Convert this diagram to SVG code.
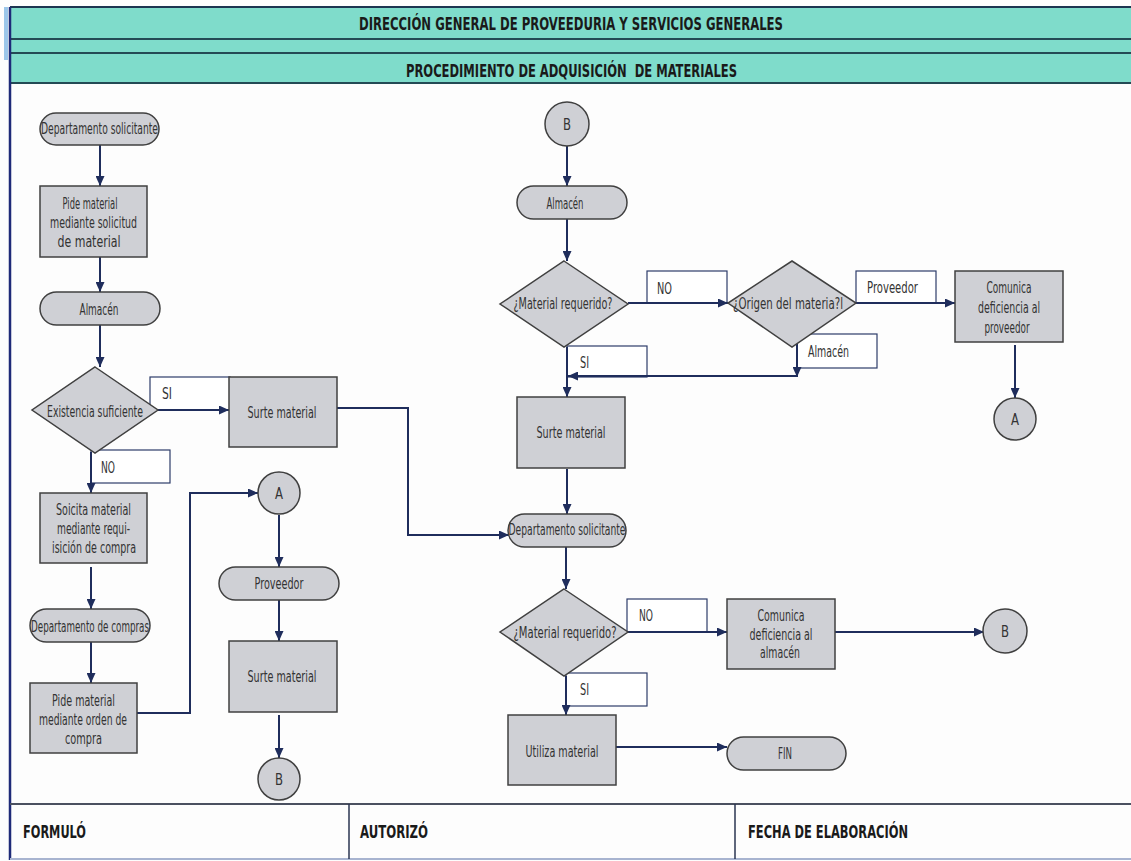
<svg xmlns="http://www.w3.org/2000/svg" width="1131" height="861" viewBox="0 0 1131 861">
<style>
.n{fill:#cfd0d5;stroke:#404040;stroke-width:1.5}
.lb{fill:#ffffff;stroke:#2d3c6a;stroke-width:1.2}
.c{fill:none;stroke:#1f2d5c;stroke-width:2}
.t{font-family:"DejaVu Sans Condensed","Liberation Sans Narrow",sans-serif;font-size:15px;fill:#333;text-anchor:middle}
.ts{font-family:"DejaVu Sans Condensed","Liberation Sans Narrow",sans-serif;font-size:15px;fill:#333;text-anchor:start}
.h{font-family:"DejaVu Sans Condensed","Liberation Sans Narrow",sans-serif;font-size:17px;font-weight:bold;fill:#1a1a1a}
.hl{stroke:#244a55;stroke-width:2}
</style>
<defs>
<marker id="ar" markerWidth="10" markerHeight="9" refX="10" refY="4.5" orient="auto" markerUnits="userSpaceOnUse"><path d="M0,0 L10,4.5 L0,9 z" fill="#1f2d5c"/></marker>
</defs>
<rect x="0" y="0" width="1131" height="861" fill="#fdfdfd"/>
<g id="header">
<rect x="10" y="7" width="1121" height="76" fill="#7fdccb"/>
<rect x="4" y="7" width="4" height="53" fill="#9cc7ea"/>
<line x1="10" y1="7" x2="1131" y2="7" stroke="#1c3550" stroke-width="2"/>
<line class="hl" x1="10" y1="39" x2="1131" y2="39"/>
<line class="hl" x1="10" y1="53" x2="1131" y2="53"/>
<line class="hl" x1="10" y1="83" x2="1131" y2="83"/>
<text class="h" x="571" y="30" text-anchor="middle" textLength="424" lengthAdjust="spacingAndGlyphs">DIRECCIÓN GENERAL DE PROVEEDURIA Y SERVICIOS GENERALES</text>
<text class="h" x="571.5" y="77" text-anchor="middle" textLength="331" lengthAdjust="spacingAndGlyphs" xml:space="preserve">PROCEDIMIENTO DE ADQUISICIÓN  DE MATERIALES</text>
</g>
<g id="frame">
<line x1="10" y1="7" x2="10" y2="860" stroke="#1e2a78" stroke-width="2.5"/>
<line x1="10" y1="804" x2="1131" y2="804" stroke="#4a5060" stroke-width="2"/>
<line x1="10" y1="859" x2="1131" y2="859" stroke="#a8b4d0" stroke-width="2"/>
<line x1="349" y1="804" x2="349" y2="859" stroke="#2a3450" stroke-width="1.5"/>
<line x1="735" y1="804" x2="735" y2="859" stroke="#2a3450" stroke-width="1.5"/>
<text class="h" x="23" y="838" textLength="63" lengthAdjust="spacingAndGlyphs">FORMULÓ</text>
<text class="h" x="360" y="838" textLength="68" lengthAdjust="spacingAndGlyphs">AUTORIZÓ</text>
<text class="h" x="748" y="838" textLength="160" lengthAdjust="spacingAndGlyphs">FECHA DE ELABORACIÓN</text>
</g>
<g id="labels">
<rect class="lb" x="150" y="377" width="80" height="33"/>
<text class="ts" x="162" y="399" textLength="10" lengthAdjust="spacingAndGlyphs">SI</text>
<rect class="lb" x="91" y="450" width="79" height="33"/>
<text class="ts" x="101" y="473" textLength="14" lengthAdjust="spacingAndGlyphs">NO</text>
<rect class="lb" x="647" y="271" width="80" height="32"/>
<text class="ts" x="657" y="294" textLength="15" lengthAdjust="spacingAndGlyphs">NO</text>
<rect class="lb" x="856" y="271" width="80" height="32"/>
<text class="ts" x="867" y="293" textLength="51" lengthAdjust="spacingAndGlyphs">Proveedor</text>
<rect class="lb" x="797" y="334" width="80" height="34"/>
<text class="ts" x="808" y="357" textLength="41" lengthAdjust="spacingAndGlyphs">Almacén</text>
<rect class="lb" x="567" y="346" width="80" height="31"/>
<text class="ts" x="580" y="368" textLength="9" lengthAdjust="spacingAndGlyphs">SI</text>
<rect class="lb" x="627" y="599" width="80" height="33"/>
<text class="ts" x="639" y="621" textLength="14" lengthAdjust="spacingAndGlyphs">NO</text>
<rect class="lb" x="566" y="673" width="81" height="33"/>
<text class="ts" x="580" y="695" textLength="9" lengthAdjust="spacingAndGlyphs">SI</text>
</g>
<g id="connectors">
<line class="c" x1="100" y1="145" x2="100" y2="186" marker-end="url(#ar)"/>
<line class="c" x1="100" y1="257" x2="100" y2="292" marker-end="url(#ar)"/>
<line class="c" x1="100" y1="325" x2="100" y2="367" marker-end="url(#ar)"/>
<line class="c" x1="158" y1="410" x2="229" y2="410" marker-end="url(#ar)" stroke-width="2.5"/>
<line class="c" x1="91" y1="452" x2="91" y2="493" marker-end="url(#ar)"/>
<line class="c" x1="91" y1="567" x2="91" y2="609" marker-end="url(#ar)"/>
<line class="c" x1="91" y1="642" x2="91" y2="683" marker-end="url(#ar)"/>
<path class="c" d="M137,713 H190 V493 H258" marker-end="url(#ar)" stroke-width="1.5"/>
<line class="c" x1="279" y1="515" x2="279" y2="567" marker-end="url(#ar)"/>
<line class="c" x1="279" y1="600" x2="279" y2="641" marker-end="url(#ar)"/>
<line class="c" x1="279" y1="715" x2="279" y2="758" marker-end="url(#ar)"/>
<path class="c" d="M337,408 H408 V535 H509" marker-end="url(#ar)" stroke-width="1.5"/>
<line class="c" x1="567" y1="146" x2="567" y2="186" marker-end="url(#ar)"/>
<line class="c" x1="567" y1="219" x2="567" y2="261" marker-end="url(#ar)"/>
<line class="c" x1="628" y1="303" x2="728" y2="303" marker-end="url(#ar)"/>
<line class="c" x1="856" y1="303" x2="955" y2="303" marker-end="url(#ar)"/>
<line class="c" x1="1015" y1="345" x2="1015" y2="398" marker-end="url(#ar)"/>
<line class="c" x1="797" y1="344" x2="797" y2="377" marker-end="url(#ar)"/>
<line class="c" x1="797" y1="376" x2="568" y2="376" marker-end="url(#ar)"/>
<line class="c" x1="567" y1="347" x2="567" y2="397" marker-end="url(#ar)"/>
<line class="c" x1="567" y1="469" x2="567" y2="514" marker-end="url(#ar)"/>
<line class="c" x1="566" y1="547" x2="566" y2="589" marker-end="url(#ar)"/>
<line class="c" x1="627" y1="632" x2="727" y2="632" marker-end="url(#ar)"/>
<line class="c" x1="835" y1="632" x2="984" y2="632" marker-end="url(#ar)"/>
<line class="c" x1="566" y1="676" x2="566" y2="715" marker-end="url(#ar)"/>
<line class="c" x1="616" y1="747" x2="727" y2="747" marker-end="url(#ar)"/>
</g>
<g id="n1"><rect class="n" x="40" y="113" width="119" height="32" rx="16"/><text class="t" x="99.5" y="134" textLength="117" lengthAdjust="spacingAndGlyphs">Departamento solicitante</text></g>
<g id="n2"><rect class="n" x="40" y="186" width="107" height="71"/>
<text class="t" x="90" y="209" textLength="55" lengthAdjust="spacingAndGlyphs">Pide material</text>
<text class="t" x="93.5" y="228" textLength="87" lengthAdjust="spacingAndGlyphs">mediante solicitud</text>
<text class="t" x="89" y="247" textLength="63" lengthAdjust="spacingAndGlyphs">de material</text></g>
<g id="n3"><rect class="n" x="40" y="292" width="120" height="33" rx="16.5"/><text class="t" x="99" y="315" textLength="39" lengthAdjust="spacingAndGlyphs">Almacén</text></g>
<g id="n4"><polygon class="n" points="95,367 158,410 95,453 32,410"/><text class="t" x="95" y="417" textLength="96" lengthAdjust="spacingAndGlyphs">Existencia suficiente</text></g>
<g id="n5"><rect class="n" x="229" y="377" width="108" height="70"/><text class="t" x="282" y="418" textLength="69" lengthAdjust="spacingAndGlyphs">Surte material</text></g>
<g id="n6"><rect class="n" x="40" y="493" width="107" height="70"/>
<text class="t" x="93.5" y="515" textLength="75" lengthAdjust="spacingAndGlyphs">Soicita material</text>
<text class="t" x="93.5" y="534" textLength="73" lengthAdjust="spacingAndGlyphs">mediante requi-</text>
<text class="t" x="94" y="553" textLength="84" lengthAdjust="spacingAndGlyphs">isición de compra</text></g>
<g id="n7"><rect class="n" x="30" y="609" width="120" height="33" rx="16.5"/><text class="t" x="90" y="632" textLength="118" lengthAdjust="spacingAndGlyphs">Departamento de compras</text></g>
<g id="n8"><rect class="n" x="30" y="683" width="107" height="70"/>
<text class="t" x="83.5" y="706" textLength="63" lengthAdjust="spacingAndGlyphs">Pide material</text>
<text class="t" x="83" y="725" textLength="88" lengthAdjust="spacingAndGlyphs">mediante orden de</text>
<text class="t" x="83.5" y="744" textLength="37" lengthAdjust="spacingAndGlyphs">compra</text></g>
<g id="n9"><circle class="n" cx="279" cy="493" r="21"/><text class="t" x="279" y="499" textLength="8" lengthAdjust="spacingAndGlyphs">A</text></g>
<g id="n10"><rect class="n" x="219" y="567" width="120" height="33" rx="16.5"/><text class="t" x="279" y="589" textLength="49" lengthAdjust="spacingAndGlyphs">Proveedor</text></g>
<g id="n11"><rect class="n" x="229" y="641" width="108" height="71"/><text class="t" x="282" y="682" textLength="69" lengthAdjust="spacingAndGlyphs">Surte material</text></g>
<g id="n12"><circle class="n" cx="279" cy="779" r="21"/><text class="t" x="279" y="785" textLength="8" lengthAdjust="spacingAndGlyphs">B</text></g>
<g id="n13"><circle class="n" cx="567" cy="124" r="22"/><text class="t" x="567" y="130" textLength="8" lengthAdjust="spacingAndGlyphs">B</text></g>
<g id="n14"><rect class="n" x="517" y="186" width="110" height="33" rx="16.5"/><text class="t" x="565" y="209" textLength="37" lengthAdjust="spacingAndGlyphs">Almacén</text></g>
<g id="n15"><polygon class="n" points="564,261 628,304 564,347 500,304"/><text class="t" x="563" y="309" textLength="99" lengthAdjust="spacingAndGlyphs">¿Material requerido?</text></g>
<g id="n16"><polygon class="n" points="792,261 856,303 792,347 728,303"/><text class="t" x="788" y="309" textLength="110" lengthAdjust="spacingAndGlyphs">¿Origen del materia?l</text></g>
<g id="n17"><rect class="n" x="955" y="271" width="108" height="71"/>
<text class="t" x="1009" y="293" textLength="45" lengthAdjust="spacingAndGlyphs">Comunica</text>
<text class="t" x="1009" y="313" textLength="62" lengthAdjust="spacingAndGlyphs">deficiencia al</text>
<text class="t" x="1007" y="333" textLength="45" lengthAdjust="spacingAndGlyphs">proveedor</text></g>
<g id="n18"><circle class="n" cx="1015" cy="419" r="21"/><text class="t" x="1015" y="425" textLength="8" lengthAdjust="spacingAndGlyphs">A</text></g>
<g id="n19"><rect class="n" x="517" y="397" width="108" height="71"/><text class="t" x="571" y="438" textLength="69" lengthAdjust="spacingAndGlyphs">Surte material</text></g>
<g id="n20"><rect class="n" x="508" y="514" width="118" height="33" rx="16.5"/><text class="t" x="567" y="535" textLength="117" lengthAdjust="spacingAndGlyphs">Departamento solicitante</text></g>
<g id="n21"><polygon class="n" points="564,589 628,632 564,676 500,632"/><text class="t" x="565" y="638" textLength="103" lengthAdjust="spacingAndGlyphs">¿Material requerido?</text></g>
<g id="n22"><rect class="n" x="727" y="599" width="108" height="70"/>
<text class="t" x="781" y="621" textLength="47" lengthAdjust="spacingAndGlyphs">Comunica</text>
<text class="t" x="781" y="640" textLength="63" lengthAdjust="spacingAndGlyphs">deficiencia al</text>
<text class="t" x="780" y="658" textLength="40" lengthAdjust="spacingAndGlyphs">almacén</text></g>
<g id="n23"><circle class="n" cx="1005" cy="631" r="22"/><text class="t" x="1005" y="637" textLength="8" lengthAdjust="spacingAndGlyphs">B</text></g>
<g id="n24"><rect class="n" x="508" y="715" width="108" height="70"/><text class="t" x="562" y="757" textLength="73" lengthAdjust="spacingAndGlyphs">Utiliza material</text></g>
<g id="n25"><rect class="n" x="727" y="737" width="119" height="33" rx="16.5"/><text class="t" x="785" y="759" textLength="14" lengthAdjust="spacingAndGlyphs">FIN</text></g>
</svg>
